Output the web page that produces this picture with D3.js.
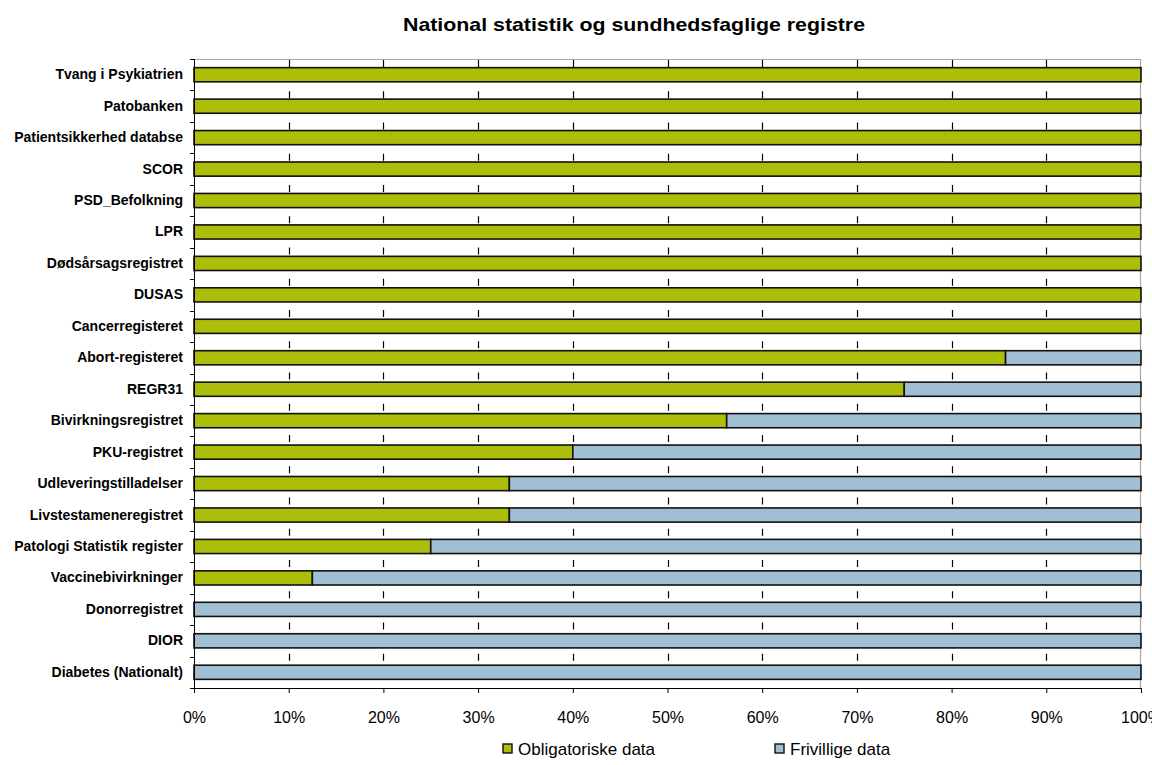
<!DOCTYPE html>
<html>
<head>
<meta charset="utf-8">
<script src="https://cdn.jsdelivr.net/npm/d3@7"></script>
<style>
  html, body { margin: 0; padding: 0; background: #fff; }
  svg { display: block; font-family: "Liberation Sans", Arial, sans-serif; }
</style>
</head>
<body>
<svg id="chart" width="1152" height="765"></svg>
<script>
// Registers, listed top to bottom
const categories = [
  "Tvang i Psykiatrien",
  "Patobanken",
  "Patientsikkerhed databse",
  "SCOR",
  "PSD_Befolkning",
  "LPR",
  "Dødsårsagsregistret",
  "DUSAS",
  "Cancerregisteret",
  "Abort-registeret",
  "REGR31",
  "Bivirkningsregistret",
  "PKU-registret",
  "Udleveringstilladelser",
  "Livstestameneregistret",
  "Patologi Statistik register",
  "Vaccinebivirkninger",
  "Donorregistret",
  "DIOR",
  "Diabetes (Nationalt)"
];

// Share of mandatory data (%)
const obligatoriske = [100, 100, 100, 100, 100, 100, 100, 100, 100, 85.7, 75, 56.25, 40, 33.3, 33.3, 25, 12.5, 0, 0, 0];
// Share of voluntary data (%)
const frivillige = [0, 0, 0, 0, 0, 0, 0, 0, 0, 14.3, 25, 43.75, 60, 66.7, 66.7, 75, 87.5, 100, 100, 100];

const seriesNames = ["Obligatoriske data", "Frivillige data"];
const seriesColors = ["#acbd0a", "#a0bfd3"];
const xTicks = [0, 10, 20, 30, 40, 50, 60, 70, 80, 90, 100];

const title = "National statistik og sundhedsfaglige registre";

const svg = d3.select("#chart");
const margin = { left: 194, right: 11, top: 59, bottom: 77 };
const W = 1152, H = 765;
const plotW = W - margin.left - margin.right;
const plotH = H - margin.top - margin.bottom;

const rows = categories.map((c, i) => ({ name: c, obl: obligatoriske[i], fri: frivillige[i] }));

const x = d3.scaleLinear().domain([0, 100]).range([0, plotW]);
const y = d3.scaleBand().domain(categories).range([0, plotH]).paddingInner(0.55).paddingOuter(0.275);
const yb = d3.scaleBand().domain(categories).range([0, plotH]);
const step = yb.step();

const g = svg.append("g").attr("transform", `translate(${margin.left},${margin.top})`);

// Plot frame (top and right in grey)
g.append("path")
  .attr("d", `M0,0.5H${plotW - 0.5}V${plotH}`)
  .attr("fill", "none")
  .attr("stroke", "#a6a6a6")
  .attr("stroke-width", 1.2);

// Dashed vertical gridlines: one short dash in each gap between bars
const dashes = [];
xTicks.slice(1, -1).forEach(t => {
  categories.forEach((c, i) => dashes.push({ t, i }));
});
const dashPeriod = 31.25;
g.append("g")
  .attr("class", "grid")
  .selectAll("line")
  .data(dashes)
  .join("line")
  .attr("x1", d => Math.round(x(d.t)) + 0.5)
  .attr("x2", d => Math.round(x(d.t)) + 0.5)
  .attr("y1", d => 1 + d.i * dashPeriod)
  .attr("y2", d => 8 + d.i * dashPeriod)
  .attr("stroke", "#000")
  .attr("stroke-width", 1.2);

// Stacked bars
const stack = d3.stack().keys(["obl", "fri"]);
const layers = stack(rows);
g.append("g")
  .selectAll("g")
  .data(layers)
  .join("g")
  .attr("fill", (d, i) => seriesColors[i])
  .selectAll("rect")
  .data(d => d.filter(v => v[1] - v[0] > 0))
  .join("rect")
  .attr("x", d => x(d[0]))
  .attr("y", d => y(d.data.name))
  .attr("width", d => x(d[1]) - x(d[0]))
  .attr("height", y.bandwidth())
  .attr("stroke", "#111")
  .attr("stroke-width", 1.6);

// Category axis
const yAxis = d3.axisLeft(yb).tickSize(0).tickPadding(11);
const ya = g.append("g").call(yAxis);
ya.select(".domain").remove();
ya.selectAll("text")
  .attr("font-size", 14)
  .attr("font-weight", "bold")
  .attr("fill", "#000")
  .attr("font-family", "Liberation Sans, Arial, sans-serif");
g.append("line")
  .attr("x1", 0.5).attr("x2", 0.5).attr("y1", 0).attr("y2", plotH)
  .attr("stroke", "#000").attr("stroke-width", 1);
g.append("g")
  .selectAll("line")
  .data(d3.range(categories.length + 1))
  .join("line")
  .attr("x1", -4).attr("x2", 0)
  .attr("y1", i => Math.round(i * step) + 0.5)
  .attr("y2", i => Math.round(i * step) + 0.5)
  .attr("stroke", "#000");

// Value axis
const xAxis = d3.axisBottom(x).tickValues(xTicks).tickFormat(d => d + "%").tickSize(5).tickPadding(19);
const xa = g.append("g").attr("transform", `translate(0,${plotH})`).call(xAxis);
xa.select(".domain").attr("stroke", "#000");
xa.selectAll("text")
  .attr("font-size", 16)
  .attr("fill", "#000")
  .attr("font-family", "Liberation Sans, Arial, sans-serif");

// Title
svg.append("text")
  .attr("x", 403)
  .attr("y", 31)
  .attr("font-size", 18.5)
  .attr("font-weight", "bold")
  .attr("textLength", 462)
  .attr("lengthAdjust", "spacingAndGlyphs")
  .text(title);

// Legend
const legendX = [503, 775];
const lg = svg.append("g").selectAll("g").data(seriesNames).join("g")
  .attr("transform", (d, i) => `translate(${legendX[i]},744)`);
lg.append("rect")
  .attr("width", 9).attr("height", 9)
  .attr("fill", (d, i) => seriesColors[i])
  .attr("stroke", "#111").attr("stroke-width", 1.4);
lg.append("text")
  .attr("x", 15).attr("y", 11)
  .attr("font-size", 17)
  .text(d => d);
</script>
</body>
</html>
